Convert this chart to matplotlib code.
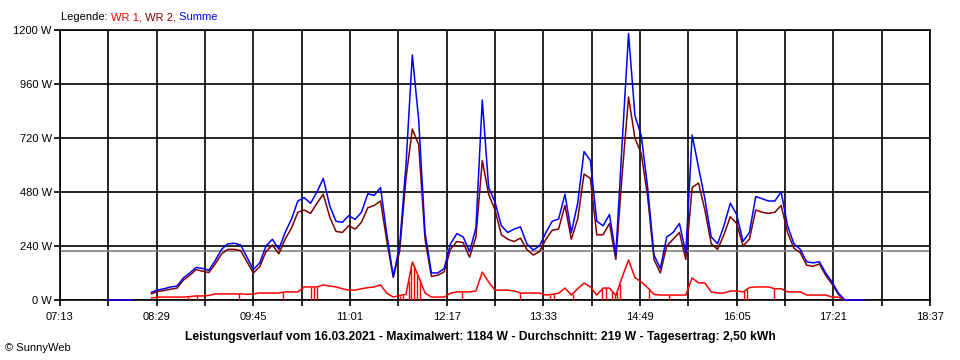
import numpy as np
import matplotlib
matplotlib.use("Agg")
import matplotlib.pyplot as plt
from matplotlib.ticker import FuncFormatter

plt.rcParams['font.family'] = ['Liberation Sans', 'DejaVu Sans']
plt.rcParams['font.size'] = 8

# 5-minute values starting at 07:50 (W)
start_min = 7 * 60 + 50
step_min = 5

summe = [0, 0, 0, 0, 0, np.nan, np.nan, 35, 45, 50, 58, 62, 98, 120, 145, 140, 132, 175, 225, 250,
         252, 245, 190, 135, 165, 240, 270, 225, 300, 360, 440, 455, 430, 480, 540, 420, 350, 345, 375, 358,
         390, 472, 465, 500, 290, 105, 240, 600, 1089, 800, 300, 120, 120, 140, 250, 295, 280, 215, 320, 889,
         500, 436, 330, 300, 315, 325, 250, 222, 240, 300, 350, 360, 470, 300, 430, 660, 620, 350, 330, 380,
         200, 700, 1184, 820, 730, 500, 200, 140, 280, 300, 340, 210, 733, 590, 450, 280, 250, 330, 430, 380,
         260, 300, 460, 450, 440, 440, 480, 330, 250, 225, 170, 165, 170, 120, 80, 30, 0, 0, 0, 0]

wr2 = [0, 0, 0, 0, 0, np.nan, np.nan, 28, 38, 42, 48, 53, 88, 110, 135, 128, 122, 160, 205, 225,
       225, 220, 170, 120, 148, 215, 245, 205, 270, 320, 390, 400, 385, 430, 470, 370, 305, 300, 330, 315,
       345, 410, 420, 440, 260, 100, 215, 540, 760, 690, 270, 105, 110, 125, 225, 260, 255, 190, 280, 620,
       470, 400, 290, 270, 260, 275, 225, 200, 215, 270, 310, 315, 420, 270, 360, 560, 540, 290, 290, 340,
       180, 560, 902, 720, 650, 460, 180, 120, 240, 270, 300, 180, 500, 520, 400, 250, 225, 290, 370, 340,
       240, 270, 400, 390, 385, 390, 420, 300, 230, 210, 155, 150, 160, 110, 70, 25, 0, 0, 0, 0]

wr1 = [np.nan, np.nan, np.nan, np.nan, np.nan, np.nan, np.nan, 9, 13, 13, 13, 13, 13, 15, 18, 18, 20, 27, 27, 27,
       27, 27, 25, 27, 31, 31, 31, 31, 36, 36, 36, 58, 58, 58, 67, 62, 58, 50, 44, 44,
       50, 55, 58, 67, 30, 13, 20, 25, 169, 102, 31, 13, 13, 13, 30, 36, 36, 36, 40, 124,
       80, 44, 44, 44, 40, 31, 31, 31, 31, 22, 25, 30, 53, 22, 50, 75, 58, 22, 53, 53,
       20, 102, 178, 100, 80, 55, 25, 22, 22, 22, 22, 22, 98, 76, 76, 36, 31, 31, 40, 40,
       36, 55, 58, 58, 58, 50, 50, 36, 36, 36, 22, 22, 22, 22, 13, 13, 0, 0, 0, 0]

# minutes of day where WR 1 briefly drops to 0 W
wr1_dropouts = [534, 541, 574, 608, 630, 633, 635, 700, 703, 707, 709, 711, 714, 716,
                749, 795, 818, 821, 836, 859, 862, 867, 869, 871, 873, 896, 912, 971, 973, 994]

average = 219
y_ticks = [0, 240, 480, 720, 960, 1200]
x_start = 7 * 60 + 13
x_end = 18 * 60 + 37

caption = ("Leistungsverlauf vom 16.03.2021 - Maximalwert: 1184 W - "
           "Durchschnitt: 219 W - Tagesertrag: 2,50 kWh")

t = start_min + step_min * np.arange(len(summe))

fig = plt.figure(figsize=(9.6, 3.6), dpi=100)
ax = fig.add_axes([60 / 960, 1 - 300 / 360, 870 / 960, 270 / 360])

w1 = np.array(wr1, dtype=float)
ok = ~np.isnan(w1)
drop_top = np.interp(wr1_dropouts, t[ok], w1[ok])
ax.vlines(wr1_dropouts, 0, drop_top, color='#ff0000', lw=1.0, zorder=3)

ax.plot(t, wr1, color='#ff0000', lw=1.1, zorder=3, clip_on=False)
ax.plot(t, wr2, color='#800000', lw=1.1, zorder=4, clip_on=False)
ax.plot(t, summe, color='#0000ff', lw=1.1, zorder=5, clip_on=False)
ax.axhline(average, color='#808080', lw=1.2, zorder=2)

ax.set_xlim(x_start, x_end)
ax.set_ylim(0, 1200)
ax.set_xticks(np.arange(x_start, x_end + 1, 76))
ax.set_xticks(np.arange(x_start, x_end + 1, 38), minor=True)
ax.xaxis.set_major_formatter(FuncFormatter(lambda v, p: "%02d:%02d" % (v // 60, v % 60)))
ax.set_yticks(y_ticks)
ax.set_yticklabels(["%d W" % v for v in y_ticks])

ax.grid(True, which='both', color='black', lw=1.2, zorder=1)
ax.set_axisbelow(True)
for s in ax.spines.values():
    s.set_linewidth(1.2)
ax.tick_params(which='both', direction='out', length=4, width=1.2, color='black')
ax.tick_params(axis='x', pad=5)
ax.tick_params(axis='y', pad=2)

txt = fig.text(61 / 960, 1 - 17 / 360, "Legende: ", color='black', va='center', ha='left')
for s, c in [("WR 1,", '#ff0000'), (" WR 2,", '#800000'), (" Summe", '#0000ff')]:
    txt = ax.annotate(s, xy=(1, 0), xycoords=txt, va='bottom', ha='left', color=c)

fig.text(0.5, 1 - 337 / 360, caption, ha='center', va='center', fontweight='bold', fontsize=8.7)
fig.text(5 / 960, 1 - 348 / 360, "\u00a9 SunnyWeb", ha='left', va='center', fontsize=8)

fig.savefig("out.png", dpi=100)
